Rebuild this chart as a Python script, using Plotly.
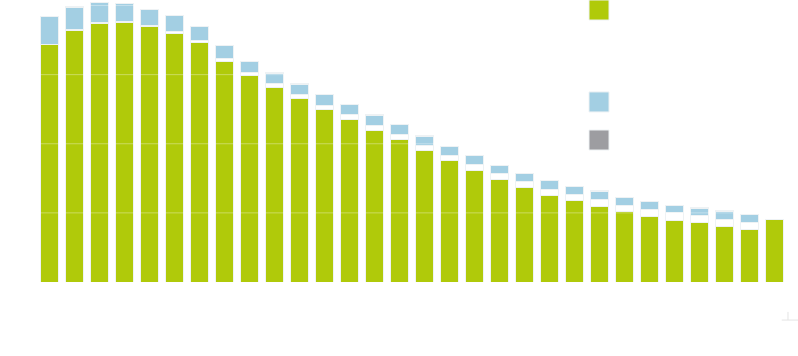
import plotly.graph_objects as go

categories = [str(i) for i in range(1, 31)]

green_values = [17.17, 18.19, 18.72, 18.77, 18.48, 17.99, 17.34, 15.94, 14.93, 14.06,
                13.26, 12.46, 11.74, 10.94, 10.29, 9.51, 8.77, 8.04, 7.44, 6.83,
                6.28, 5.87, 5.46, 5.07, 4.76, 4.44, 4.28, 3.99, 3.77, 4.49]

white_values = [0.0, 0.07, 0.07, 0.07, 0.07, 0.12, 0.12, 0.22, 0.25, 0.29,
                0.29, 0.29, 0.36, 0.36, 0.36, 0.34, 0.36, 0.43, 0.43, 0.41,
                0.41, 0.43, 0.49, 0.49, 0.51, 0.56, 0.51, 0.51, 0.51, 0.0]

blue_values = [2.03, 1.59, 1.45, 1.30, 1.16, 1.16, 1.01, 0.94, 0.80, 0.72,
               0.72, 0.80, 0.72, 0.72, 0.72, 0.65, 0.65, 0.65, 0.58, 0.63,
               0.63, 0.58, 0.58, 0.55, 0.55, 0.51, 0.51, 0.58, 0.58, 0.0]

grey_values = [0.0, 0.07, 0.0, 0.0, 0.0, 0.0, 0.0, 0.0, 0.0, 0.07,
               0.07, 0.0, 0.0, 0.07, 0.0, 0.07, 0.0, 0.0, 0.0, 0.0,
               0.0, 0.0, 0.07, 0.0, 0.0, 0.0, 0.07, 0.07, 0.0, 0.0]

grid_values = [5, 10, 15, 20]

GREEN = "#B0CA0A"
BLUE = "#A3CFE3"
GREY = "#9D9DA1"
OUTLINE = "#EEF2F4"

fig = go.Figure()
for name, vals, col in [("Series 1", green_values, GREEN),
                        ("Series 2", white_values, "#FFFFFF"),
                        ("Series 3", blue_values, BLUE),
                        ("Series 4", grey_values, GREY)]:
    fig.add_trace(go.Bar(
        x=categories, y=vals, name=name,
        marker=dict(color=col, line=dict(color=OUTLINE, width=1)),
        showlegend=False,
    ))

shapes = []
for g in grid_values:
    shapes.append(dict(type="line", xref="paper", yref="y", x0=0, x1=1, y0=g, y1=g,
                       line=dict(color="rgba(255,255,255,0.35)", width=1), layer="above"))

# legend swatches
for y0, y1, col in [(0.929, 1.0, GREEN), (0.603, 0.674, BLUE), (0.468, 0.539, GREY)]:
    shapes.append(dict(type="rect", xref="paper", yref="paper", x0=0.736, x1=0.7627,
                       y0=y0, y1=y1, fillcolor=col, line=dict(color=OUTLINE, width=1),
                       layer="above"))

# small corner mark
shapes.append(dict(type="line", xref="paper", yref="paper", x0=0.993, x1=1.015,
                   y0=-0.135, y1=-0.135, line=dict(color="#E4E4E4", width=1)))
shapes.append(dict(type="line", xref="paper", yref="paper", x0=1.0013, x1=1.0013,
                   y0=-0.135, y1=-0.106, line=dict(color="#E4E4E4", width=1)))

fig.update_layout(
    barmode="stack",
    bargap=0.28,
    width=798, height=356,
    margin=dict(l=37, r=11, t=0, b=74),
    paper_bgcolor="white",
    plot_bgcolor="white",
    showlegend=False,
    shapes=shapes,
    xaxis=dict(range=[-0.5, 29.5], showticklabels=False, showgrid=False,
               zeroline=False, showline=False, ticks=""),
    yaxis=dict(range=[0, 20.4], showticklabels=False, showgrid=False,
               zeroline=False, showline=False, ticks=""),
)

fig.write_html("out.html",
               config={"displayModeBar": False},
               post_script="document.body.style.margin='0';document.body.style.overflow='hidden';")
